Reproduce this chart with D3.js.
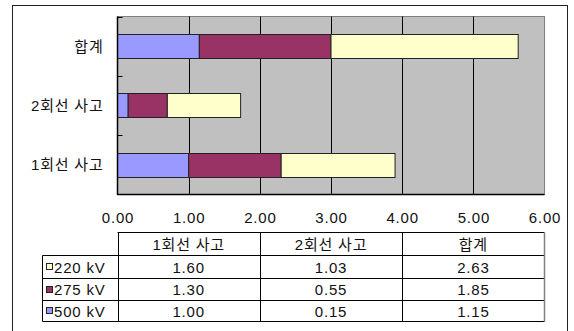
<!DOCTYPE html>
<html lang="ko">
<head>
<meta charset="UTF-8">
<title>회선 사고 막대 차트</title>
<style>
  body { margin: 0; background: #fff; }
  text { font-family: "Liberation Sans", "Noto Sans CJK KR", sans-serif; font-size: 15px; fill: #111; letter-spacing: 0.8px; }
</style>
</head>
<body>
<div id="chart"></div>
<script src="https://cdn.jsdelivr.net/npm/d3@7"></script>
<script>
// data
var categories = ["1회선 사고", "2회선 사고", "합계"];
var seriesNames = ["500 kV", "275 kV", "220 kV"];
var seriesColors = ["#9999FF", "#993366", "#FFFFCC"];
var values500 = [1.00, 0.15, 1.15];
var values275 = [1.30, 0.55, 1.85];
var values220 = [1.60, 1.03, 2.63];
var xTicks = [0, 1, 2, 3, 4, 5, 6];

var allValues = [values500, values275, values220];

var W = 574, H = 331;
var plot = { left: 117.5, right: 544.5, top: 16.5, bottom: 194.5 };

var svg = d3.select("#chart").append("svg")
    .attr("width", W).attr("height", H);

// outer frame
svg.append("rect")
    .attr("x", 12.5).attr("y", 5.5)
    .attr("width", 555).attr("height", 340)
    .attr("fill", "none").attr("stroke", "#222").attr("stroke-width", 1);

var x = d3.scaleLinear().domain([0, 6]).range([plot.left, plot.right]);

// top to bottom: 합계, 2회선, 1회선
var yBand = d3.scaleBand()
    .domain(categories.slice().reverse())
    .range([plot.top, plot.bottom])
    .padding(0);
var barH = yBand.bandwidth() * 0.41;

// plot background
svg.append("rect")
    .attr("x", plot.left).attr("y", plot.top)
    .attr("width", plot.right - plot.left).attr("height", plot.bottom - plot.top)
    .attr("fill", "#C0C0C0").attr("stroke", "#808080").attr("stroke-width", 1);

// gridlines
svg.append("g").selectAll("line")
    .data(xTicks.slice(1, -1))
    .enter().append("line")
    .attr("x1", function (d) { return Math.round(x(d)) + 0.5; })
    .attr("x2", function (d) { return Math.round(x(d)) + 0.5; })
    .attr("y1", plot.top).attr("y2", plot.bottom)
    .attr("stroke", "#000").attr("stroke-width", 1);

// stacked bars
var stacked = [];
categories.forEach(function (c, i) {
    var start = 0;
    for (var s = 0; s < seriesNames.length; s++) {
        var v = allValues[s][i];
        stacked.push({ cat: c, s: s, x0: start, x1: start + v });
        start += v;
    }
});

svg.append("g").selectAll("rect")
    .data(stacked)
    .enter().append("rect")
    .attr("x", function (d) { return x(d.x0); })
    .attr("width", function (d) { return x(d.x1) - x(d.x0); })
    .attr("y", function (d) { return Math.round(yBand(d.cat) + (yBand.bandwidth() - barH) / 2) + 0.5; })
    .attr("height", Math.round(barH))
    .attr("fill", function (d) { return seriesColors[d.s]; })
    .attr("stroke", "#222").attr("stroke-width", 1);

// axes lines (left + bottom, black)
svg.append("line")
    .attr("x1", plot.left).attr("x2", plot.left)
    .attr("y1", plot.top).attr("y2", plot.bottom + 0.5)
    .attr("stroke", "#000").attr("stroke-width", 1.5);
svg.append("line")
    .attr("x1", plot.left - 0.5).attr("x2", plot.right)
    .attr("y1", plot.bottom).attr("y2", plot.bottom)
    .attr("stroke", "#000").attr("stroke-width", 1.5);

// y ticks (inside) at band boundaries
var boundaries = yBand.domain().map(function (c) { return yBand(c); });
svg.append("g").selectAll("line")
    .data(boundaries)
    .enter().append("line")
    .attr("x1", plot.left).attr("x2", plot.left + 5)
    .attr("y1", function (d) { return Math.round(d) + 0.5; })
    .attr("y2", function (d) { return Math.round(d) + 0.5; })
    .attr("stroke", "#000");

// category labels
svg.append("g").selectAll("text")
    .data(categories)
    .enter().append("text")
    .attr("x", plot.left - 14)
    .attr("y", function (d) { return yBand(d) + yBand.bandwidth() / 2; })
    .attr("text-anchor", "end")
    .attr("dominant-baseline", "central")
    .text(function (d) { return d; });

// x axis labels
var xAxis = d3.axisBottom(x)
    .tickValues(xTicks)
    .tickFormat(d3.format(".2f"))
    .tickSize(0)
    .tickPadding(0);
var gx = svg.append("g")
    .attr("transform", "translate(0,211)")
    .call(xAxis);
gx.select(".domain").remove();
gx.selectAll("text")
    .attr("fill", "#111")
    .attr("dy", null)
    .attr("y", 6)
    .attr("dominant-baseline", "central")
    .style("font-size", "15px")
    .style("font-family", "\"Liberation Sans\", \"Noto Sans CJK KR\", sans-serif");

// data table
var colBand = d3.scaleBand().domain(categories).range([x(0), x(6)]);
var tableLeft = 42.5;
var rowEdges = [232.5, 255.5, 278.5, 300.5, 321.5];
var tableRows = [2, 1, 0]; // 220, 275, 500

var tbl = svg.append("g").attr("stroke", "#000").attr("stroke-width", 1);
tbl.append("line").attr("x1", x(0)).attr("x2", x(6)).attr("y1", rowEdges[0]).attr("y2", rowEdges[0]);
rowEdges.slice(1).forEach(function (ry) {
    tbl.append("line").attr("x1", tableLeft).attr("x2", x(6)).attr("y1", ry).attr("y2", ry);
});
tbl.append("line").attr("x1", tableLeft).attr("x2", tableLeft).attr("y1", rowEdges[1]).attr("y2", rowEdges[4]);
categories.forEach(function (c) {
    tbl.append("line")
        .attr("x1", Math.round(colBand(c)) + 0.5).attr("x2", Math.round(colBand(c)) + 0.5)
        .attr("y1", rowEdges[0]).attr("y2", rowEdges[4]);
});
tbl.append("line")
    .attr("x1", Math.round(x(6)) - 0.5).attr("x2", Math.round(x(6)) - 0.5)
    .attr("y1", rowEdges[0]).attr("y2", rowEdges[4])
    .attr("stroke", "#808080").attr("stroke-width", 1.5);

// header text
svg.append("g").selectAll("text")
    .data(categories)
    .enter().append("text")
    .attr("x", function (d) { return colBand(d) + colBand.bandwidth() / 2; })
    .attr("y", (rowEdges[0] + rowEdges[1]) / 2)
    .attr("text-anchor", "middle")
    .attr("dominant-baseline", "central")
    .text(function (d) { return d; });

// rows
tableRows.forEach(function (s, r) {
    var cy = (rowEdges[r + 1] + rowEdges[r + 2]) / 2;
    svg.append("rect")
        .attr("x", 46.5).attr("y", Math.round(cy - 3) - 0.5)
        .attr("width", 6).attr("height", 6)
        .attr("fill", seriesColors[s]).attr("stroke", "#222");
    svg.append("text")
        .attr("x", 54).attr("y", cy)
        .attr("dominant-baseline", "central")
        .text(seriesNames[s]);
    svg.append("g").selectAll("text")
        .data(allValues[s])
        .enter().append("text")
        .attr("x", function (d, i) { return colBand(categories[i]) + colBand.bandwidth() / 2; })
        .attr("y", cy)
        .attr("text-anchor", "middle")
        .attr("dominant-baseline", "central")
        .text(function (d) { return d.toFixed(2); });
});
</script>
</body>
</html>
